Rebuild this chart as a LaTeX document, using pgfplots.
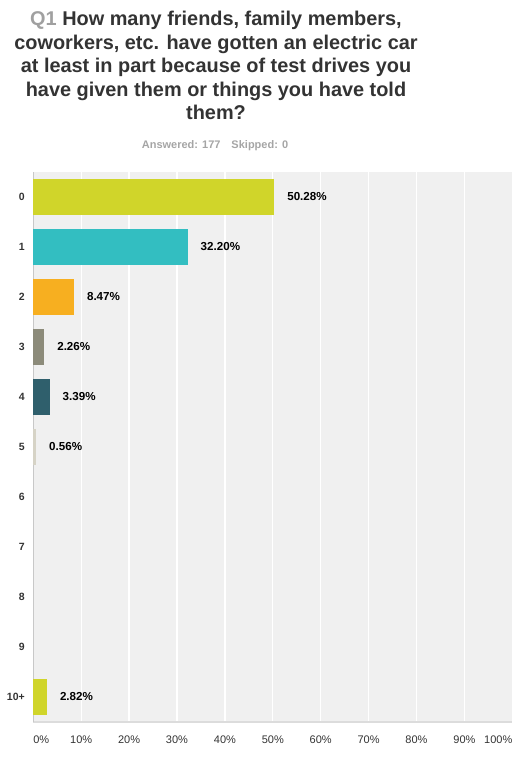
\documentclass[border=0pt]{standalone}
\usepackage{pgfplots}
\pgfplotsset{compat=1.18}
\usepackage{fontspec}
\setmainfont{Liberation Sans}
\definecolor{cA}{HTML}{D0D52A}
\definecolor{cB}{HTML}{33BEC1}
\definecolor{cC}{HTML}{F7AF20}
\definecolor{cD}{HTML}{8C8B7A}
\definecolor{cE}{HTML}{2F5F6C}
\definecolor{cF}{HTML}{D6D3C6}
\definecolor{bgc}{HTML}{F0F0F0}
\definecolor{botline}{HTML}{DCDCDC}
\definecolor{leftline}{HTML}{C8C8C8}
\definecolor{txt}{HTML}{333333}
\definecolor{q1}{HTML}{A0A0A0}
\definecolor{sub}{HTML}{A5A5A5}
\begin{document}
\begin{tikzpicture}
\useasboundingbox (0,0) rectangle (529bp,757bp);
\begin{scope}[every node/.style={anchor=base, inner sep=0pt, text=txt, font=\fontsize{19.9bp}{23.5bp}\selectfont\bfseries}]
\node at (216bp,731bp) {{\color{q1}Q1} How many friends, family members,};
\node at (216bp,707.5bp) {coworkers, etc. have gotten an electric car};
\node at (216bp,684bp) {at least in part because of test drives you};
\node at (216bp,660.5bp) {have given them or things you have told};
\node at (216bp,637bp) {them?};
\end{scope}
\node[anchor=base, inner sep=0pt, text=sub, font=\fontsize{11bp}{13bp}\selectfont\bfseries] at (215bp,608.7bp) {Answered: 177\hspace{11bp}Skipped: 0};
\begin{axis}[
  at={(33.3bp,35bp)}, anchor=south west,
  scale only axis, width=479bp, height=550bp,
  xmin=0, xmax=100, ymin=-0.5, ymax=10.5,
  xbar, bar width=36bp, bar shift=0pt,
  axis background/.style={fill=bgc},
  axis x line=bottom, axis y line=left,
  x axis line style={-, draw=botline, line width=2bp},
  y axis line style={-, draw=leftline, line width=1bp},
  xtick={0,10,...,100},
  xticklabels={\makebox[0pt][l]{0\%},10\%,20\%,30\%,40\%,50\%,60\%,70\%,80\%,90\%,\makebox[0pt][r]{100\%}},
  ytick={0,...,10},
  yticklabels={10+,9,8,7,6,5,4,3,2,1,0},
  major tick length=0pt,
  xmajorgrids, major grid style={white, line width=1.3bp},
  xticklabel style={font=\fontsize{11bp}{13bp}\selectfont, text=txt, inner sep=0pt, anchor=north, yshift=-14bp},
  yticklabel style={font=\fontsize{10.5bp}{12bp}\selectfont\bfseries, text=txt, inner sep=0pt, anchor=east, xshift=-8.3bp},
  point meta=explicit symbolic,
  nodes near coords,
  every node near coord/.append style={anchor=west, inner sep=0pt, xshift=13bp, font=\fontsize{11.6bp}{13bp}\selectfont\bfseries, text=black},
  clip=false,
]
\addplot[fill=cA, draw=none] coordinates {(50.28,10) [50.28\%]};
\addplot[fill=cB, draw=none] coordinates {(32.20,9) [32.20\%]};
\addplot[fill=cC, draw=none] coordinates {(8.47,8) [8.47\%]};
\addplot[fill=cD, draw=none] coordinates {(2.26,7) [2.26\%]};
\addplot[fill=cE, draw=none] coordinates {(3.39,6) [3.39\%]};
\addplot[fill=cF, draw=none] coordinates {(0.56,5) [0.56\%]};
\addplot[fill=cA, draw=none] coordinates {(2.82,0) [2.82\%]};
\end{axis}
\end{tikzpicture}
\end{document}
